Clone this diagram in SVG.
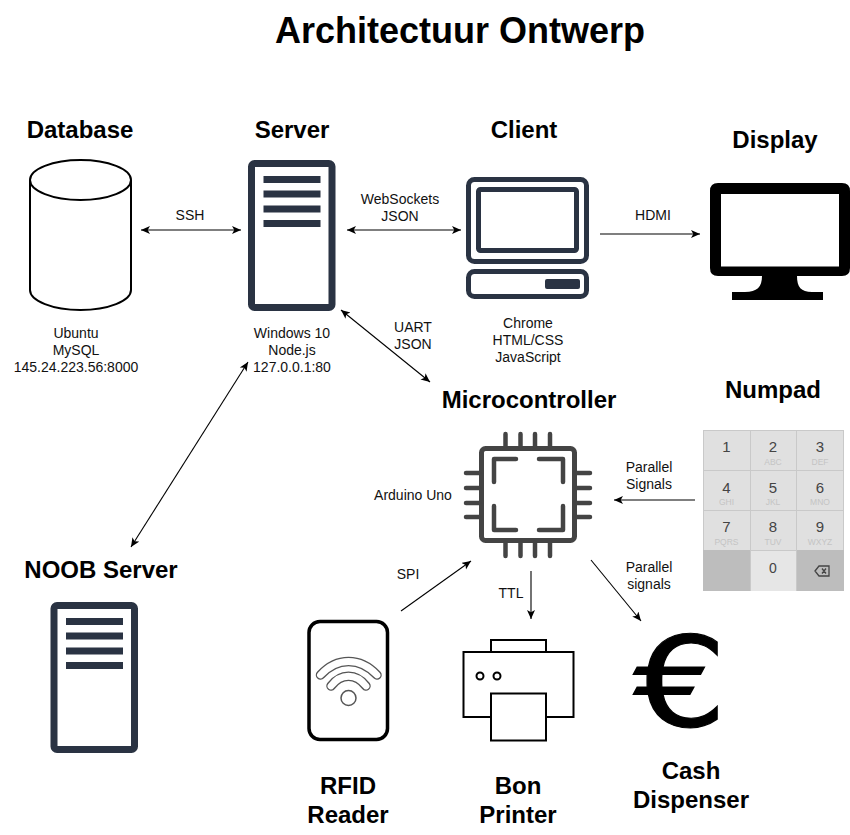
<svg xmlns="http://www.w3.org/2000/svg" width="850" height="835" viewBox="0 0 850 835">
<style>
text{font-family:"Liberation Sans",Arial,sans-serif;text-anchor:middle;fill:#000}
.h{font-size:24px;font-weight:700}
.l{font-size:14px;fill:#111}
.n{fill:none;stroke:#2a3343;stroke-linejoin:round}
.b{fill:#2a3343}
.c{fill:none;stroke:#444;stroke-width:4.5;stroke-linecap:round;stroke-linejoin:round}
.k{font-size:15px;fill:#444}
.s{font-size:8.5px;fill:#c4c4c4}
.p{fill:none;stroke:#000;stroke-width:2}
.a{fill:none;stroke:#000;stroke-width:1.1;marker-end:url(#m)}
.d{marker-start:url(#ms)}
</style>
<defs>
<marker id="m" markerUnits="userSpaceOnUse" markerWidth="12" markerHeight="10" refX="9" refY="4" orient="auto"><path d="M0 0L9 4L0 8L2.3 4Z" fill="#000"/></marker>
<marker id="ms" markerUnits="userSpaceOnUse" markerWidth="12" markerHeight="10" refX="0" refY="4" orient="auto"><path d="M9 0L0 4L9 8L6.7 4Z" fill="#000"/></marker>
<g id="srv"><rect x="251.5" y="163.5" width="80.5" height="144" rx="3" class="n" stroke-width="7" fill="#fff"/><rect x="263.5" y="176" width="57" height="7" class="b"/><rect x="263.5" y="190.500" width="57" height="7" class="b"/><rect x="263.5" y="205.500" width="57" height="7" class="b"/><rect x="263.500" y="220" width="57" height="7" class="b"/></g>
</defs>
<rect width="850" height="835" fill="#fff"/>
<text x="460" y="43" style="font-size:36px;font-weight:700">Architectuur Ontwerp</text>
<g id="connectors">
<path class="a d" d="M141 230H241"/>
<path class="a d" d="M347 230H461"/>
<path class="a" d="M600 234H700"/>
<path class="a d" d="M341 310L430 382"/>
<path class="a d" d="M248 362L131 547"/>
<path class="a" d="M695 500H614"/>
<path class="a" d="M401 611L471 561"/>
<path class="a" d="M531 571V619"/>
<path class="a" d="M591 560L641 621"/>
<text class="l" x="190" y="220">SSH</text>
<text class="l" x="400" y="204">WebSockets</text>
<text class="l" x="400" y="221">JSON</text>
<text class="l" x="653" y="220">HDMI</text>
<text class="l" x="413" y="332">UART</text>
<text class="l" x="413" y="349">JSON</text>
<text class="l" x="649" y="472">Parallel</text>
<text class="l" x="649" y="489">Signals</text>
<text class="l" x="649" y="572">Parallel</text>
<text class="l" x="649" y="589">signals</text>
<text class="l" x="408" y="579">SPI</text>
<text class="l" x="511" y="598">TTL</text>
</g>
<g id="database">
<text class="h" x="80" y="138">Database</text>
<path d="M30 180V290C30 301 53 310 80.500 310S131 301 131 290V180C131 169 108 160 80.500 160S30 169 30 180C30 191 53 200 80.500 200S131 191 131 180" fill="#fff" stroke="#000" stroke-width="2"/>
<text class="l" x="76" y="338">Ubuntu</text>
<text class="l" x="76" y="355">MySQL</text>
<text class="l" x="76" y="372">145.24.223.56:8000</text>
</g>
<g id="server">
<text class="h" x="292" y="138">Server</text>
<use href="#srv"/>
<text class="l" x="292" y="338">Windows 10</text>
<text class="l" x="292" y="355">Node.js</text>
<text class="l" x="292" y="372">127.0.0.1:80</text>
</g>
<g id="client">
<text class="h" x="524" y="138">Client</text>
<rect x="468.500" y="179.500" width="118" height="82" rx="6" class="n" stroke-width="5" fill="#fff"/>
<rect x="478.500" y="189.500" width="98" height="61" rx="2" class="n" stroke-width="5" fill="#fff"/>
<rect x="468.500" y="271.500" width="118" height="25" rx="6" class="n" stroke-width="5" fill="#fff"/>
<rect x="545" y="279" width="35" height="10" rx="2" class="b"/>
<text class="l" x="528" y="328">Chrome</text>
<text class="l" x="528" y="345">HTML/CSS</text>
<text class="l" x="528" y="362">JavaScript</text>
</g>
<g id="display">
<text class="h" x="775" y="148">Display</text>
<path d="M718 183H842Q850 183 850 191V268Q850 276 842 276H797C797 287 801 292 812 292H823V300H732V292H745C757 292 762 287 762 276H718Q710 276 710 268V191Q710 183 718 183Z" fill="#000"/>
<rect x="721" y="194" width="118" height="72.500" fill="#fff"/>
</g>
<g id="microcontroller">
<text class="h" x="529" y="408">Microcontroller</text>
<text class="l" x="413" y="500">Arduino Uno</text>
<rect x="481.500" y="448.500" width="93" height="92" rx="4" fill="#fff" stroke="#444" stroke-width="5"/>
<path class="c" d="M505.500 434V446M520.500 434V446M535 434V446M550 434V446M505.500 543V556M520.500 543V556M535 543V556M550 543V556M466 473H479M466 488H479M466 503H479M466 517H479M577 473H590M577 488H590M577 503H590M577 517H590"/>
<path class="c" d="M516 459H494V482M539 459H563V482M494 506V530H516M563 506V530H539"/>
</g>
<g id="numpad">
<text class="h" x="773" y="398">Numpad</text>
<rect x="703" y="430" width="141" height="161" fill="#c9c9c9"/>
<rect x="704" y="431" width="46" height="39" fill="#e0e0e0"/><rect x="751" y="431" width="45" height="39" fill="#e0e0e0"/><rect x="797" y="431" width="46" height="39" fill="#e0e0e0"/>
<rect x="704" y="471" width="46" height="39" fill="#e0e0e0"/><rect x="751" y="471" width="45" height="39" fill="#e0e0e0"/><rect x="797" y="471" width="46" height="39" fill="#e0e0e0"/>
<rect x="704" y="511" width="46" height="39" fill="#e0e0e0"/><rect x="751" y="511" width="45" height="39" fill="#e0e0e0"/><rect x="797" y="511" width="46" height="39" fill="#e0e0e0"/>
<rect x="703" y="550" width="47" height="41" fill="#bdbdbd"/><rect x="751" y="551" width="45" height="40" fill="#e6e6e6"/><rect x="797" y="550" width="47" height="41" fill="#bdbdbd"/>
<text class="k" x="726.500" y="452">1</text><text class="k" x="773" y="452">2</text><text class="k" x="820" y="452">3</text>
<text class="k" x="726.500" y="493">4</text><text class="k" x="773" y="493">5</text><text class="k" x="820" y="493">6</text>
<text class="k" x="726.500" y="532">7</text><text class="k" x="773" y="532">8</text><text class="k" x="820" y="532">9</text>
<text class="k" x="773" y="573" style="font-size:14px">0</text>
<text class="s" x="773" y="465">ABC</text><text class="s" x="820" y="465">DEF</text>
<text class="s" x="726.500" y="505">GHI</text><text class="s" x="773" y="505">JKL</text><text class="s" x="820" y="505">MNO</text>
<text class="s" x="726.500" y="545">PQRS</text><text class="s" x="773" y="545">TUV</text><text class="s" x="820" y="545">WXYZ</text>
<path d="M815 571L819 566H829V576H819ZM822 568.500L826 573.500M826 568.500L822 573.500" fill="none" stroke="#444" stroke-width="1.3"/>
</g>
<g id="noob-server">
<text class="h" x="101" y="578">NOOB Server</text>
<use href="#srv" x="-197.500" y="442"/>
</g>
<g id="rfid-reader">
<rect x="309" y="621.500" width="78.500" height="118" rx="11" fill="#fff" stroke="#000" stroke-width="3.500"/>
<path d="M320.500 675C337 657 360 657 377 675" fill="none" stroke="#555" stroke-width="9.500" stroke-linecap="round"/>
<path d="M320.500 675C337 657 360 657 377 675" fill="none" stroke="#fff" stroke-width="6.800" stroke-linecap="round"/>
<path d="M331 686C341 673 356 673 366 686" fill="none" stroke="#555" stroke-width="9.500" stroke-linecap="round"/>
<path d="M331 686C341 673 356 673 366 686" fill="none" stroke="#fff" stroke-width="6.800" stroke-linecap="round"/>
<circle cx="348.500" cy="698" r="7.500" fill="#fff" stroke="#555" stroke-width="1.500"/>
<text class="h" x="348" y="794">RFID</text>
<text class="h" x="348" y="823">Reader</text>
</g>
<g id="bon-printer">
<rect class="p" x="491" y="640" width="55" height="12.500" fill="#fff"/>
<rect class="p" x="463.500" y="652" width="110" height="65" style="fill:#fff"/>
<rect class="p" x="491" y="693.500" width="55" height="47" style="fill:#fff"/>
<circle class="p" cx="480" cy="676" r="3.500"/>
<circle class="p" cx="497" cy="676" r="3.500"/>
<text class="h" x="518" y="794">Bon</text>
<text class="h" x="518" y="823">Printer</text>
</g>
<g id="cash-dispenser">
<text transform="translate(680 726) scale(1.15 .98)" style="font-family:'DejaVu Sans',sans-serif;font-size:128px;stroke:#000;stroke-width:1.2">€</text>
<text class="h" x="691" y="779">Cash</text>
<text class="h" x="691" y="808">Dispenser</text>
</g>
</svg>
